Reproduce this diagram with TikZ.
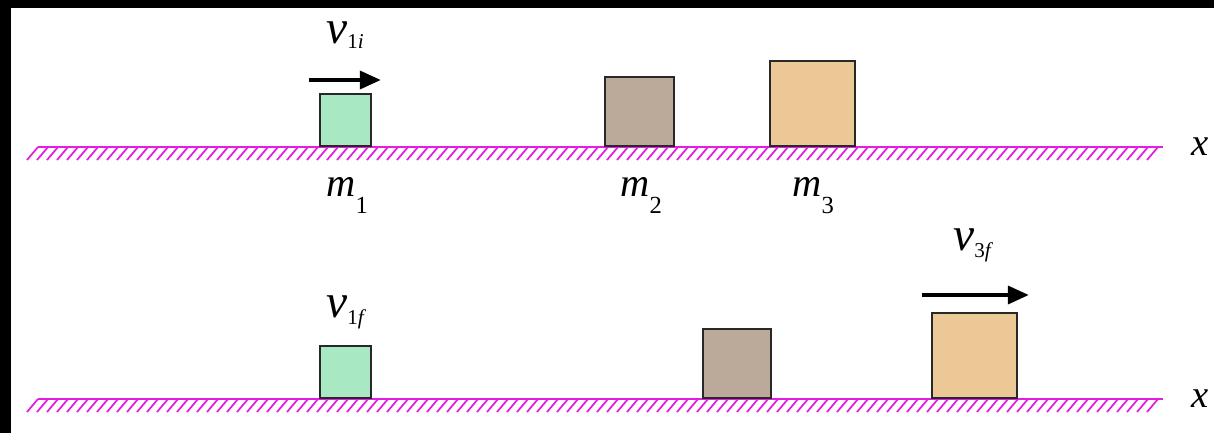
\documentclass[tikz,border=0pt]{standalone}
\usepackage{fontspec}
\setmainfont{Liberation Serif}
\usetikzlibrary{arrows.meta}

\definecolor{groundpink}{RGB}{226,31,224}
\definecolor{massgreen}{RGB}{168,233,195}
\definecolor{massgrey}{RGB}{187,169,154}
\definecolor{masstan}{RGB}{235,200,150}
\definecolor{edgegrey}{RGB}{40,40,40}

\newcommand{\masslab}[1]{{\fontsize{23}{23}\selectfont\itshape m}\raisebox{-10pt}{\fontsize{14}{14}\selectfont #1}}
\newcommand{\vellab}[3]{{\fontsize{27}{27}\selectfont\itshape v}\raisebox{#3}{\fontsize{12}{12}\selectfont #1\textit{#2}}}

\begin{document}
\begin{tikzpicture}[
    x=0.02cm, y=-0.02cm,
    >={Triangle[length=12pt, width=10pt]},
    block/.style={
        rectangle,
        draw=edgegrey,
        line width=1.1pt,
        inner sep=0pt,
        anchor=south
    },
    smallblock/.style={
        block,
        fill=massgreen,
        minimum width=1.02cm,
        minimum height=1.04cm
    },
    midblock/.style={
        block,
        fill=massgrey,
        minimum width=1.37cm,
        minimum height=1.38cm
    },
    bigblock/.style={
        block,
        fill=masstan,
        minimum width=1.7cm,
        minimum height=1.7cm
    },
    ground/.style={groundpink, line width=1.7pt},
    hatch/.style={groundpink, line width=1pt},
    velarrow/.style={->, line width=2.6pt},
    lab/.style={inner sep=0pt, anchor=base west}
]

    \useasboundingbox (0,0) rectangle (1214,433);

    % Black frame of the scan
    \fill[black] (0,0) rectangle (11,433);
    \fill[black] (0,0) rectangle (1214,8);

    % Ground lines
    \foreach \gy in {147,399} {
        \foreach \gx in {38,48,...,1162}
            \draw[hatch] (\gx,\gy) -- ++(-11,13);
        \draw[ground] (38,\gy) -- (1163,\gy);
    }

    % Before the collision
    \node[smallblock] (a1) at (345.5,147) {};
    \node[midblock] (a2) at (639.5,147) {};
    \node[bigblock] (a3) at (812.5,147) {};

    \node[lab] (ma1) at (326,196) {\masslab{1}};
    \node[lab] (ma2) at (620,196) {\masslab{2}};
    \node[lab] (ma3) at (792,196) {\masslab{3}};

    \node[lab] (va1) at (326,43) {\vellab{1}{i}{-3pt}};
    \coordinate (va1s) at (309,80);
    \coordinate (va1e) at (381,80);
    \draw[velarrow] (va1s) -- (va1e);

    \node[lab] (xa) at (1191,155) {\fontsize{22}{22}\selectfont\textit{x}};

    % After the collision
    \node[smallblock] (b1) at (345.5,399) {};
    \node[midblock] (b2) at (737,399) {};
    \node[bigblock] (b3) at (974.5,399) {};

    \node[lab] (vb1) at (326,317) {\vellab{1}{f}{-4.5pt}};
    \node[lab] (vb3) at (953,250) {\vellab{3}{f}{-4.5pt}};
    \coordinate (vb3s) at (922,295);
    \coordinate (vb3e) at (1029,295);
    \draw[velarrow] (vb3s) -- (vb3e);

    \node[lab] (xb) at (1191,407) {\fontsize{22}{22}\selectfont\textit{x}};

\end{tikzpicture}
\end{document}
